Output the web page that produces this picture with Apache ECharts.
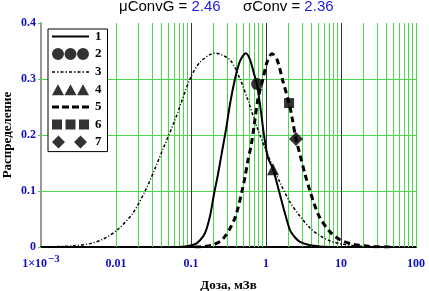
<!DOCTYPE html>
<html><head><meta charset="utf-8">
<script src="https://cdn.jsdelivr.net/npm/echarts@6/dist/echarts.min.js"></script>
<style>html,body{margin:0;padding:0;background:#fff}#c{width:429px;height:291px}</style>
</head><body><div id="c"></div>
<script>
// ---- data ----
const seriesNames = ['1', '2', '3', '4', '5', '6', '7'];
const doseSolid = [0.05, 0.083, 0.113, 0.132, 0.154, 0.179, 0.203, 0.229, 0.259, 0.293, 0.331, 0.386, 0.45, 0.54, 0.61, 0.69, 0.76, 0.86, 0.94, 1.06, 1.24, 1.49, 1.79, 2.09, 2.44, 2.84, 3.86, 5.25, 8.3];
const valSolid  = [0, 0.001, 0.005, 0.012, 0.025, 0.055, 0.095, 0.13, 0.17, 0.21, 0.255, 0.30, 0.332, 0.346, 0.335, 0.31, 0.29, 0.24, 0.20, 0.16, 0.139, 0.10, 0.06, 0.03, 0.017, 0.009, 0.003, 0.001, 0];
const doseDot = [0.001, 0.00179, 0.00267, 0.0045, 0.00671, 0.0103, 0.0169, 0.0259, 0.0331, 0.0423, 0.0612, 0.097, 0.132, 0.209, 0.331, 0.45, 0.575, 0.759, 1.03, 1.54, 2.09, 2.84, 3.86, 5.25, 7.13, 9.7, 14.5, 24.4, 45];
const valDot  = [0, 0.001, 0.002, 0.006, 0.014, 0.03, 0.061, 0.107, 0.14, 0.175, 0.227, 0.30, 0.33, 0.346, 0.334, 0.30, 0.262, 0.214, 0.168, 0.115, 0.08, 0.055, 0.034, 0.02, 0.011, 0.006, 0.0025, 0.001, 0];
const doseDash = [0.113, 0.154, 0.197, 0.244, 0.284, 0.331, 0.386, 0.424, 0.479, 0.525, 0.575, 0.631, 0.692, 0.782, 0.912, 1.03, 1.2, 1.4, 1.69, 2.03, 2.22, 2.51, 2.84, 3.31, 3.86, 4.5, 5.25, 7.13, 9.7, 14.5, 24.4, 45];
const valDash  = [0, 0.001, 0.004, 0.010, 0.019, 0.033, 0.052, 0.070, 0.100, 0.125, 0.155, 0.18, 0.215, 0.265, 0.30, 0.33, 0.345, 0.335, 0.295, 0.257, 0.232, 0.193, 0.165, 0.13, 0.10, 0.073, 0.052, 0.027, 0.013, 0.005, 0.001, 0];
const circlePt   = [[0.76, 0.291]];
const trianglePt = [[1.24, 0.139]];
const squarePt   = [[2.03, 0.257]];
const diamondPt  = [[2.51, 0.193]];
const xTickLabels = ['1×10', '0.01', '0.1', '1', '10', '100'];
const xTickSup = '−3';
const yTickLabels = ['0', '0.1', '0.2', '0.3', '0.4'];
const titleParts = [['μConvG = ', '2.46'], ['σConv = ', '2.36']];
const minorMant = [2, 3, 4, 5, 6, 7, 8, 9];
const decades = [0.001, 0.01, 0.1, 1, 10];

// ---- styling ----
const GREEN = '#4cd94c';
const BLUE = '#1010c8';
const zip = (xs, ys) => xs.map((x, i) => [x, ys[i]]);
const minorLines = [];
decades.forEach(d => minorMant.forEach(m => minorLines.push({ xAxis: +(d * m).toPrecision(3) })));
minorLines.push({ xAxis: 100 });

const serifBold = { fontFamily: 'Liberation Serif', fontWeight: 'bold' };
const B = 'M0,0M37,13';
const iconSolid = 'path://' + B + 'M0,5.5H37V7.5H0z';
const iconDotted = 'path://' + B + 'M0,6H3V7.5H0zM5,6H6.5V7.5H5zM8.5,6H11.5V7.5H8.5zM13.5,6H15V7.5H13.5zM17,6H20V7.5H17zM22,6H23.5V7.5H22zM25.5,6H28.5V7.5H25.5zM30.5,6H32V7.5H30.5zM34,6H37V7.5H34z';
const iconDashed = 'path://' + B + 'M0,5H7V8H0zM10,5H17V8H10zM20,5H27V8H20zM30,5H37V8H30z';
const iconCircles = 'path://' + B + 'M0,6.5a6,6 0 1,0 12,0a6,6 0 1,0 -12,0zM12.5,6.5a6,6 0 1,0 12,0a6,6 0 1,0 -12,0zM25,6.5a6,6 0 1,0 12,0a6,6 0 1,0 -12,0z';
const iconTriangles = 'path://' + B + 'M0,12.5L6,1.5L12,12.5zM12.5,12.5L18.5,1.5L24.5,12.5zM25,12.5L31,1.5L37,12.5z';
const iconSquares = 'path://' + B + 'M0,1.5H10V11.5H0zM13.5,1.5H23.5V11.5H13.5zM27,1.5H37V11.5H27z';
const iconDiamonds = 'path://' + B + 'M0,6.5L6.5,0L13,6.5L6.5,13zM22,6.5L28.5,0L35,6.5L28.5,13z';

const chart = echarts.init(document.getElementById('c'), null, { renderer: 'canvas' });
chart.setOption({
  animation: false,
  backgroundColor: '#fff',
  title: titleParts.map((p, i) => ({
    text: '{k|' + p[0] + '}{v|' + p[1] + '}',
    left: i === 0 ? 119 : 243, top: -1, padding: 0,
    textStyle: { fontWeight: 'normal', rich: {
      k: { fontFamily: 'Liberation Sans', fontWeight: 'normal', fontSize: 15, color: '#000' },
      v: { fontFamily: 'Liberation Sans', fontWeight: 'normal', fontSize: 15, color: '#2020e0' }
    } }
  })),
  grid: { left: 41, right: 13, top: 23, bottom: 44, containLabel: false, outerBoundsMode: 'none' },
  legend: {
    orient: 'vertical', left: 48, top: 29,
    padding: [1, 6, 3, 4],
    backgroundColor: '#fff', borderColor: '#000', borderWidth: 1,
    itemWidth: 37, itemHeight: 13, itemGap: 4.6,
    selectedMode: false,
    textStyle: Object.assign({ fontSize: 13, color: '#000', padding: [0, 0, 0, 1] }, serifBold),
    data: [
      { name: '1', icon: iconSolid },
      { name: '2', icon: iconCircles },
      { name: '3', icon: iconDotted },
      { name: '4', icon: iconTriangles },
      { name: '5', icon: iconDashed },
      { name: '6', icon: iconSquares },
      { name: '7', icon: iconDiamonds }
    ]
  },
  xAxis: {
    type: 'log', logBase: 10, min: 0.001, max: 100,
    axisLine: { show: true, onZero: false, lineStyle: { color: '#000', width: 2 } },
    axisTick: { show: false },
    splitLine: { show: true, lineStyle: { color: '#333', width: 1 } },
    axisLabel: {
      showMinLabel: true, showMaxLabel: true, margin: 7, hideOverlap: false,
      formatter: v => {
        const k = Math.round(Math.log10(v)) + 3;
        return k === 0 ? '{b|' + xTickLabels[0] + '}{s|' + xTickSup + '}' : '{b|' + xTickLabels[k] + '}';
      },
      rich: {
        b: Object.assign({ fontSize: 12, color: BLUE, padding: [4, 0, 0, 0] }, serifBold),
        s: Object.assign({ fontSize: 11, color: BLUE, padding: [0, 0, 5, 1] }, serifBold)
      }
    },
    name: 'Доза, мЗв', nameLocation: 'middle', nameGap: 32, nameMoveOverlap: false,
    nameTextStyle: Object.assign({ fontSize: 13, color: '#000' }, serifBold)
  },
  yAxis: {
    type: 'value', min: 0, max: 0.4, interval: 0.1,
    axisLine: { show: true, lineStyle: { color: '#999', width: 2 } },
    axisTick: { show: true, length: 3, lineStyle: { color: GREEN } },
    splitLine: { show: true, lineStyle: { color: ['rgba(0,0,0,0)', GREEN, GREEN, GREEN, 'rgba(0,0,0,0)'], width: 1 } },
    axisLabel: Object.assign({ fontSize: 12, color: BLUE, margin: 5,
      formatter: v => yTickLabels[Math.round(v * 10)] }, serifBold),
    name: 'Распределение', nameLocation: 'middle', nameGap: 27, nameRotate: 90, nameMoveOverlap: false,
    nameTextStyle: Object.assign({ fontSize: 13, color: '#000' }, serifBold)
  },
  series: [
    { name: 'grid', type: 'line', data: [[0.001, 0]], symbol: 'none', z: 1, silent: true,
      lineStyle: { opacity: 0 },
      markLine: { silent: true, z: 1, symbol: ['none', 'none'], label: { show: false },
        lineStyle: { color: GREEN, width: 1, type: 'solid' }, data: minorLines } },
    { name: seriesNames[0], type: 'line', data: zip(doseSolid, valSolid), symbol: 'none', smooth: 0.3, z: 3,
      color: '#000', lineStyle: { color: '#000', width: 2 } },
    { name: seriesNames[2], type: 'line', data: zip(doseDot, valDot), symbol: 'none', smooth: 0.3, z: 3,
      color: '#000', lineStyle: { color: '#000', width: 1.5, type: [3, 2, 1, 2] } },
    { name: seriesNames[4], type: 'line', data: zip(doseDash, valDash), symbol: 'none', smooth: 0.3, z: 3,
      color: '#000', lineStyle: { color: '#000', width: 3, type: [6, 4] } },
    { name: seriesNames[1], type: 'scatter', data: circlePt, symbol: 'circle', symbolSize: 12, z: 4, itemStyle: { color: '#000' } },
    { name: seriesNames[3], type: 'scatter', data: trianglePt, symbol: 'triangle', symbolSize: 12, z: 4, itemStyle: { color: '#000' } },
    { name: seriesNames[5], type: 'scatter', data: squarePt, symbol: 'rect', symbolSize: 10, z: 4, itemStyle: { color: '#000' } },
    { name: seriesNames[6], type: 'scatter', data: diamondPt, symbol: 'diamond', symbolSize: 14, z: 4, itemStyle: { color: '#000' } }
  ]
});
</script>
</body></html>
